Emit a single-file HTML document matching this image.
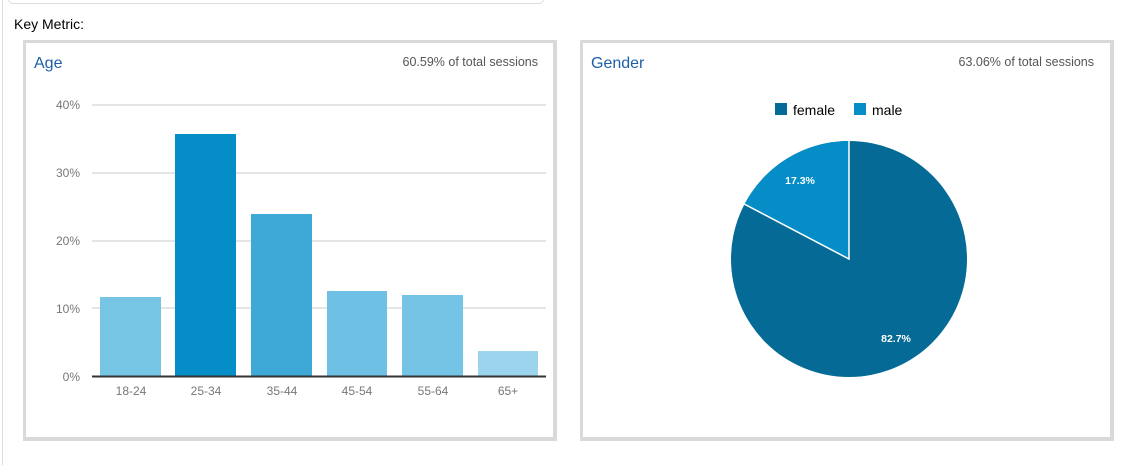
<!DOCTYPE html>
<html><head><style>
body{margin:0;width:1135px;height:465px;background:#fff;position:relative;overflow:hidden;font-family:"Liberation Sans",Arial,sans-serif;}
.p{position:absolute;top:40px;height:394px;border:3px solid #d9d9d9;border-right-width:4px;border-bottom-width:4px;background:#fff;}
</style></head><body>
<div style="position:absolute;left:2px;top:0;width:1px;height:465px;background:#ddd"></div>
<div style="position:absolute;left:8px;top:-10px;width:534px;height:12px;border:1px solid #ddd;border-radius:5px"></div>
<div style="position:absolute;left:14px;top:16px;font-size:14px;color:#000">Key Metric:</div>
<div class="p" style="left:23px;width:527px"></div>
<div class="p" style="left:580px;width:527px"></div>
<svg width="1135" height="465" style="position:absolute;left:0;top:0" font-family="Liberation Sans, Arial, sans-serif">
<text x="34" y="68" font-size="16" fill="#1e5fa8">Age</text>
<text x="538" y="66" font-size="12.5" fill="#555" text-anchor="end">60.59% of total sessions</text>
<g stroke="#e5e5e5" stroke-width="2">
<line x1="92" y1="105" x2="546" y2="105"/><line x1="92" y1="173" x2="546" y2="173"/>
<line x1="92" y1="241" x2="546" y2="241"/><line x1="92" y1="308" x2="546" y2="308"/></g>
<g font-size="12" fill="#777" text-anchor="end">
<text x="80" y="109">40%</text><text x="80" y="177">30%</text><text x="80" y="245">20%</text><text x="80" y="313">10%</text><text x="80" y="381">0%</text></g>
<rect x="100" y="297" width="61" height="79" fill="#76c5e5"/>
<rect x="175" y="134" width="61" height="242" fill="#058dc7"/>
<rect x="251" y="214" width="61" height="162" fill="#3ea8d6"/>
<rect x="327" y="291" width="60" height="85" fill="#6ec1e4"/>
<rect x="402" y="295" width="61" height="81" fill="#76c4e5"/>
<rect x="478" y="351" width="60" height="25" fill="#9dd4ed"/>
<line x1="92" y1="376.5" x2="546" y2="376.5" stroke="#333" stroke-width="2"/>
<g font-size="12" fill="#777" text-anchor="middle">
<text x="131" y="395">18-24</text><text x="206" y="395">25-34</text><text x="282" y="395">35-44</text><text x="357" y="395">45-54</text><text x="433" y="395">55-64</text><text x="508" y="395">65+</text></g>
<text x="591" y="68" font-size="16" fill="#1e5fa8">Gender</text>
<text x="1094" y="66" font-size="12.5" fill="#555" text-anchor="end">63.06% of total sessions</text>
<rect x="775" y="103" width="12" height="12" fill="#056b96"/>
<text x="793" y="115" font-size="14" fill="#000">female</text>
<rect x="854" y="103" width="12" height="12" fill="#058dc7"/>
<text x="872" y="115" font-size="14" fill="#000">male</text>
<circle cx="849" cy="259" r="118" fill="#056b96"/>
<path d="M849 259 L849 141 A118 118 0 0 0 744.5 204.2 Z" fill="#058dc7"/>
<path d="M849 141 L849 259 L744.5 204.2" fill="none" stroke="#fff" stroke-width="1.5"/>
<text x="800" y="184" font-size="10.5" font-weight="bold" fill="#fff" text-anchor="middle">17.3%</text>
<text x="896" y="342" font-size="10.5" font-weight="bold" fill="#fff" text-anchor="middle">82.7%</text>
</svg>
</body></html>
